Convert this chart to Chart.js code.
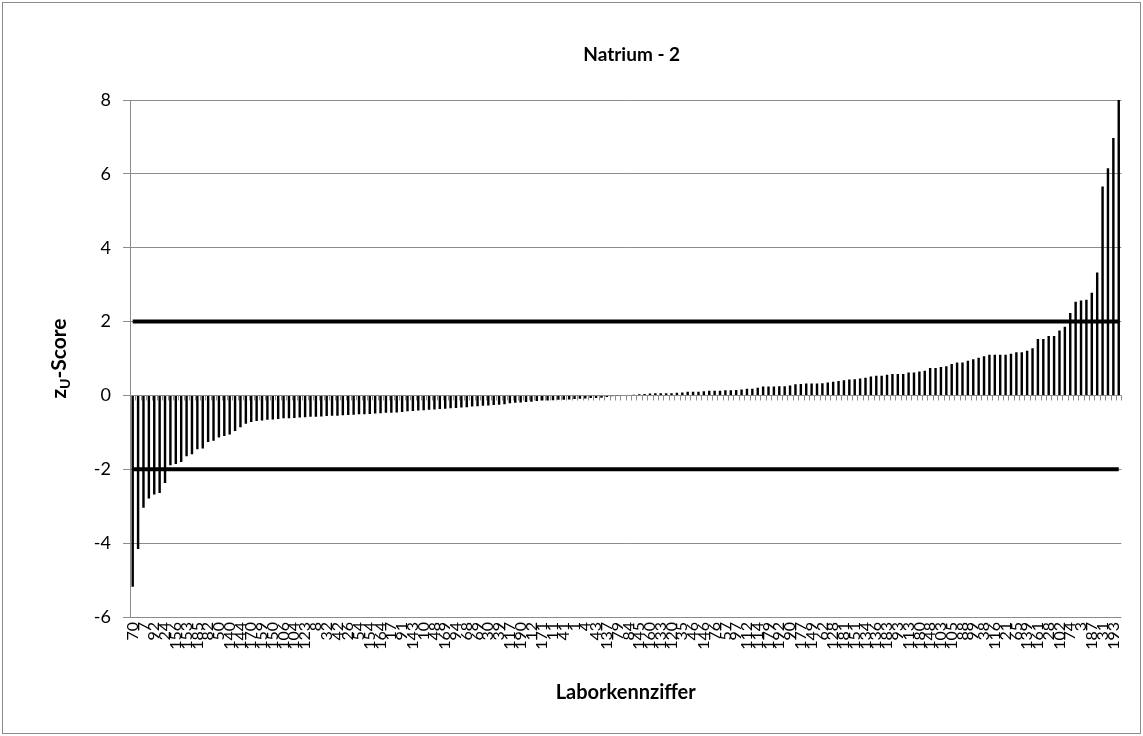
<!DOCTYPE html>
<html>
<head>
<meta charset="utf-8">
<title>Natrium - 2</title>
<script src="https://cdn.jsdelivr.net/npm/chart.js@4/dist/chart.umd.min.js"></script>
<style>
  html, body { margin: 0; padding: 0; background: #fff; }
  #wrap { width: 1143px; height: 736px; }
</style>
</head>
<body>
<div id="wrap"><canvas id="zChart" width="1143" height="736"></canvas></div>
<script>
// Laborkennziffern in plotted order (every second one is shown on the axis)
const labCodes = [
  70, 2, 7, 158, 92, 13, 24, 96, 156, 5, 153, 172, 185, 44, 82, 119, 50, 6, 140, 63,
  144, 130, 170, 20, 159, 86, 150, 110, 106, 37, 104, 141, 123, 9, 8, 55, 32, 166, 42, 73,
  26, 101, 54, 14, 154, 129, 164, 60, 17, 33, 91, 174, 143, 22, 10, 87, 48, 147, 169, 51,
  94, 121, 68, 15, 69, 77, 30, 162, 39, 45, 117, 108, 190, 25, 12, 135, 171, 58, 11, 98,
  41, 16, 1, 165, 4, 64, 43, 124, 137, 27, 79, 152, 84, 81, 145, 36, 160, 109, 133, 47,
  120, 173, 35, 59, 46, 125, 146, 18, 76, 85, 57, 131, 97, 29, 112, 157, 114, 66, 179, 100,
  192, 40, 90, 142, 177, 71, 149, 118, 62, 23, 128, 167, 181, 52, 151, 89, 134, 126, 136, 34,
  183, 107, 93, 78, 113, 155, 180, 61, 148, 122, 103, 49, 105, 132, 88, 163, 99, 72, 38, 111,
  116, 53, 21, 138, 65, 80, 139, 175, 161, 56, 28, 127, 102, 67, 74, 168, 3, 95, 187, 83,
  31, 115, 193, 75
];

// zU-Score per lab, sorted ascending
const zScores = [
  -5.18, -4.16, -3.04, -2.79, -2.68, -2.64, -2.37, -1.89, -1.86, -1.80,
  -1.65, -1.59, -1.46, -1.44, -1.26, -1.23, -1.14, -1.10, -1.06, -0.96,
  -0.86, -0.77, -0.72, -0.69, -0.68, -0.66, -0.65, -0.64, -0.62, -0.62,
  -0.61, -0.60, -0.59, -0.58, -0.58, -0.57, -0.56, -0.55, -0.55, -0.54,
  -0.53, -0.52, -0.51, -0.51, -0.50, -0.49, -0.48, -0.47, -0.47, -0.46,
  -0.45, -0.43, -0.42, -0.41, -0.40, -0.39, -0.38, -0.37, -0.36, -0.35,
  -0.34, -0.33, -0.32, -0.30, -0.29, -0.28, -0.27, -0.26, -0.25, -0.24,
  -0.21, -0.20, -0.19, -0.18, -0.17, -0.15, -0.14, -0.14, -0.13, -0.12,
  -0.12, -0.11, -0.10, -0.09, -0.08, -0.07, -0.07, -0.06, -0.04, -0.02,
  -0.01, 0.00, 0.01,
  0.02, 0.03, 0.04, 0.05, 0.06, 0.06, 0.06, 0.06, 0.07, 0.08,
  0.10, 0.10, 0.10, 0.11, 0.13, 0.13, 0.13, 0.14, 0.14, 0.15,
  0.16, 0.18, 0.18, 0.21, 0.24, 0.24, 0.24, 0.25, 0.25, 0.27,
  0.30, 0.31, 0.32, 0.32, 0.32, 0.33, 0.35, 0.37, 0.39, 0.41,
  0.43, 0.44, 0.46, 0.48,
  0.51, 0.53, 0.53, 0.56, 0.58, 0.58, 0.58, 0.62, 0.62, 0.65,
  0.67, 0.74, 0.74, 0.77, 0.79, 0.85, 0.89, 0.89, 0.94, 0.98,
  1.02, 1.06, 1.10, 1.10, 1.10, 1.10, 1.13, 1.17, 1.17, 1.21,
  1.28, 1.53, 1.53, 1.61, 1.61, 1.76, 1.86, 2.23, 2.54, 2.57,
  2.59, 2.78, 3.33, 5.66, 6.15, 6.97, 8.00
];

// tolerance limits
const upperLimit = 2;
const lowerLimit = -2;

const chartTitle = "Natrium - 2";

const FONT = "Lato, 'Open Sans', sans-serif";
const GRID = "#8c8c8c";

const frame = {
  id: "frame",
  beforeDraw(chart) {
    const c = chart.ctx;
    c.save();
    c.fillStyle = "#fff";
    c.fillRect(0, 0, chart.width, chart.height);
    c.strokeStyle = GRID;
    c.lineWidth = 1;
    c.strokeRect(2.5, 2.5, chart.width - 5, chart.height - 5);
    c.restore();
  }
};

// small category tick marks hanging below the zero line
const zeroTicks = {
  id: "zeroTicks",
  beforeDatasetsDraw(chart) {
    const x = chart.scales.x, y = chart.scales.y;
    const y0 = Math.round(y.getPixelForValue(0)) + 0.5;
    const step = x.width / labCodes.length;
    const c = chart.ctx;
    c.save();
    c.strokeStyle = GRID;
    c.lineWidth = 1;
    c.beginPath();
    for (let i = 0; i <= labCodes.length; i++) {
      const px = Math.round(x.left + i * step) + 0.5;
      c.moveTo(px, y0);
      c.lineTo(px, y0 + 5);
    }
    c.stroke();
    c.restore();
  }
};

// title centred over the plot area, y-axis title with subscript U
const texts = {
  id: "texts",
  afterDraw(chart) {
    const c = chart.ctx;
    const area = chart.chartArea;
    c.save();
    c.fillStyle = "#000";
    c.textAlign = "center";
    c.textBaseline = "middle";
    c.font = "bold 19px " + FONT;
    c.fillText(chartTitle, (area.left + area.right) / 2 + 6, 55);
    c.restore();

    const cy = (area.top + area.bottom) / 2;
    c.save();
    c.translate(59, cy);
    c.rotate(-Math.PI / 2);
    c.fillStyle = "#000";
    c.textBaseline = "middle";
    const big = "bold 21px " + FONT, small = "bold 14px " + FONT;
    c.font = big; const wz = c.measureText("z").width; const ws = c.measureText("-Score").width;
    c.font = small; const wu = c.measureText("U").width;
    const x0 = -(wz + wu + ws) / 2;
    c.font = big; c.fillText("z", x0, 0);
    c.font = small; c.fillText("U", x0 + wz, 6);
    c.font = big; c.fillText("-Score", x0 + wz + wu, 0);
    c.restore();
  }
};

new Chart(document.getElementById("zChart"), {
  type: "bar",
  data: {
    labels: labCodes.map(String),
    datasets: [
      {
        type: "line",
        data: labCodes.map(() => upperLimit),
        borderColor: "#000",
        borderWidth: 4,
        pointRadius: 0,
        order: 0
      },
      {
        type: "line",
        data: labCodes.map(() => lowerLimit),
        borderColor: "#000",
        borderWidth: 4,
        pointRadius: 0,
        order: 0
      },
      {
        data: zScores,
        backgroundColor: "#000",
        borderWidth: 0,
        barPercentage: 0.45,
        categoryPercentage: 1,
        order: 1
      }
    ]
  },
  options: {
    responsive: false,
    animation: false,
    layout: { padding: { left: 44, right: 21, top: 100, bottom: 27 } },
    plugins: {
      legend: { display: false },
      tooltip: { enabled: false },
      title: { display: false }
    },
    scales: {
      x: {
        offset: true,
        grid: { display: false, drawTicks: false },
        border: { display: false },
        ticks: {
          autoSkip: false,
          minRotation: 90,
          maxRotation: 90,
          padding: 5,
          color: "#000",
          font: { family: FONT, size: 16 },
          callback: function (v, i) { return i % 2 === 0 ? this.getLabelForValue(v) : ""; }
        },
        title: {
          display: true,
          text: "Laborkennziffer",
          color: "#000",
          font: { family: FONT, size: 20, weight: "bold" }
        },
        afterFit(scale) { scale.height = 92; }
      },
      y: {
        min: -6,
        max: 8,
        ticks: {
          stepSize: 2,
          padding: 12,
          color: "#000",
          font: { family: FONT, size: 18 }
        },
        grid: { color: GRID, lineWidth: 1, tickLength: 7 },
        border: { color: GRID, width: 1 },
        afterFit(scale) { scale.width = 86; }
      }
    }
  },
  plugins: [frame, zeroTicks, texts]
});
</script>
</body>
</html>
